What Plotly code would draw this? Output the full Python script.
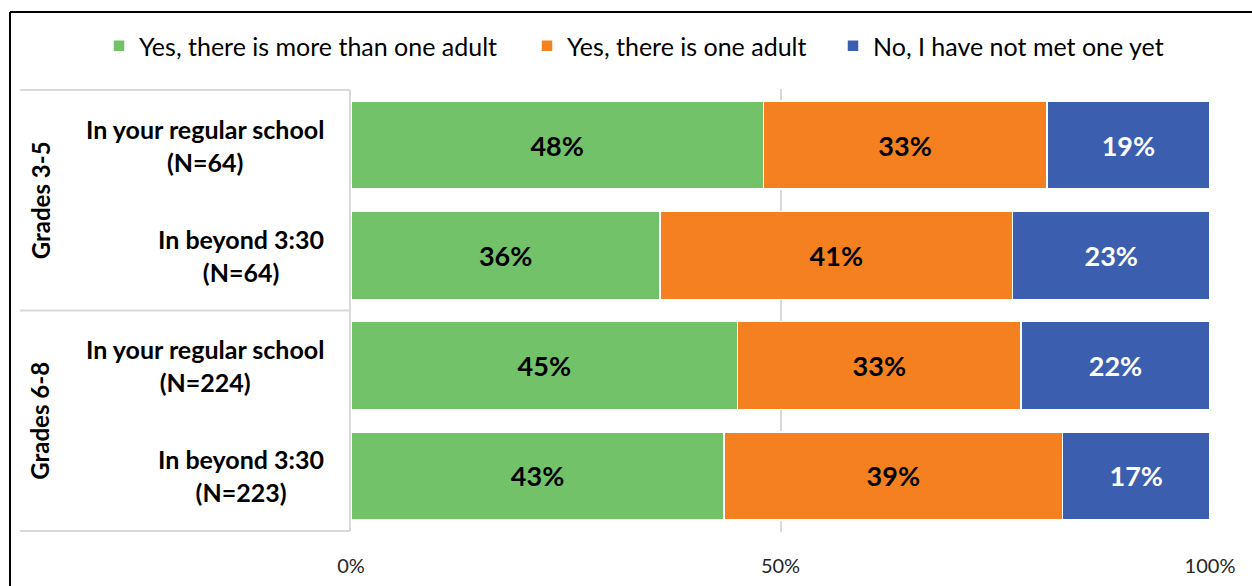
import plotly.graph_objects as go

# Survey rows (top to bottom) and their grade groups
groups = ["Grades 3-5", "Grades 6-8"]
rows = [
    "In your regular school<br>(N=64)",
    "In beyond 3:30<br>(N=64)",
    "In your regular school<br>(N=224)",
    "In beyond 3:30<br>(N=223)",
]
row_group = ["Grades 3-5", "Grades 3-5", "Grades 6-8", "Grades 6-8"]

# Percent of students giving each answer
more_than_one = [48, 36, 45, 43]
one_adult = [33, 41, 33, 39]
not_yet = [19, 23, 22, 17]

series_names = [
    "Yes, there is more than one adult",
    "Yes, there is one adult",
    "No, I have not met one yet",
]
series_values = [more_than_one, one_adult, not_yet]
series_colors = ["#72C26A", "#F58020", "#3B5FAE"]
label_colors = ["#000000", "#000000", "#FFFFFF"]

x_tick_vals = [0, 50, 100]
x_tick_text = ["0%", "50%", "100%"]

FONT = "Lato"

# page and plot-area geometry (pixels)
W, H = 1252, 586
L, R, T, B = 351, 42, 89, 54
plot_w = W - L - R
plot_h = H - T - B


def px_x(p):
    return (p - L) / plot_w


def px_y(p):
    return (H - B - p) / plot_h


# one legend box per series so each entry sits at its own place along the top
legend_ids = ["legend", "legend2", "legend3"]
legend_left = [99, 527, 833]

fig = go.Figure()
for name, vals, color, tcolor, lid in zip(series_names, series_values, series_colors,
                                          label_colors, legend_ids):
    fig.add_trace(go.Bar(
        y=rows,
        x=vals,
        name=name,
        orientation="h",
        marker=dict(color=color, line=dict(color="white", width=1.5)),
        text=[f"{v}%" for v in vals],
        textposition="inside",
        insidetextanchor="middle",
        textfont=dict(family=FONT, size=27, color=tcolor, weight="bold"),
        constraintext="none",
        hoverinfo="skip",
        legend=lid,
    ))

annotations = []
# Row labels, centred lines, right edge next to the axis
for r in rows:
    annotations.append(dict(
        x=px_x(326), xref="paper", y=r, yref="y",
        text=f"<b>{r}</b>", showarrow=False, align="center",
        xanchor="right", yanchor="middle",
        font=dict(family=FONT, size=25, color="#000000"),
    ))

# Group labels, rotated
for g in groups:
    idx = [i for i, rg in enumerate(row_group) if rg == g]
    mid = (idx[0] + idx[-1]) / 2
    annotations.append(dict(
        x=px_x(40), xref="paper", y=mid, yref="y",
        text=f"<b>{g}</b>", showarrow=False, textangle=-90,
        xanchor="center", yanchor="middle",
        font=dict(family=FONT, size=24, color="#000000"),
    ))

shapes = []
grid = "#D9D9D9"
# frame around the category labels
for yb in [-0.5, 1.5, 3.5]:
    shapes.append(dict(type="line", xref="paper", yref="y", x0=px_x(20), x1=px_x(350),
                       y0=yb, y1=yb, line=dict(color=grid, width=2)))
shapes.append(dict(type="line", xref="paper", yref="y", x0=px_x(350), x1=px_x(350),
                   y0=-0.5, y1=3.5, line=dict(color=grid, width=2)))

# outer border (top and left)
shapes.append(dict(type="line", xref="paper", yref="paper", x0=px_x(10), x1=px_x(1260),
                   y0=px_y(12), y1=px_y(12), line=dict(color="#000000", width=2)))
shapes.append(dict(type="line", xref="paper", yref="paper", x0=px_x(10), x1=px_x(10),
                   y0=px_y(600), y1=px_y(12), line=dict(color="#000000", width=2)))

legend_style = dict(
    orientation="h",
    xanchor="left",
    y=px_y(46), yanchor="middle",
    font=dict(family=FONT, size=25, color="#000000"),
    bgcolor="rgba(0,0,0,0)",
    itemclick=False,
    itemdoubleclick=False,
)

fig.update_layout(
    width=W, height=H,
    margin=dict(l=L, r=R, t=T, b=B, autoexpand=False),
    barmode="stack",
    barnorm="percent",
    bargap=0.2,
    plot_bgcolor="white",
    paper_bgcolor="white",
    font=dict(family=FONT, color="#000000"),
    showlegend=True,
    annotations=annotations,
    shapes=shapes,
    uniformtext=dict(minsize=27, mode="show"),
)
for lid, left in zip(legend_ids, legend_left):
    fig.update_layout({lid: dict(legend_style, x=px_x(left))})

fig.update_xaxes(
    range=[0, 100],
    tickvals=x_tick_vals,
    ticktext=x_tick_text,
    showgrid=True,
    gridcolor=grid,
    gridwidth=1.5,
    zeroline=False,
    showline=False,
    ticks="",
    ticklabelstandoff=20,
    tickfont=dict(family=FONT, size=20, color="#262626"),
    automargin=False,
    fixedrange=True,
)
fig.update_yaxes(
    categoryorder="array",
    categoryarray=rows,
    autorange="reversed",
    showticklabels=False,
    showgrid=False,
    zeroline=False,
    showline=False,
    ticks="",
    automargin=False,
    fixedrange=True,
)

fig.write_html("out.html")
